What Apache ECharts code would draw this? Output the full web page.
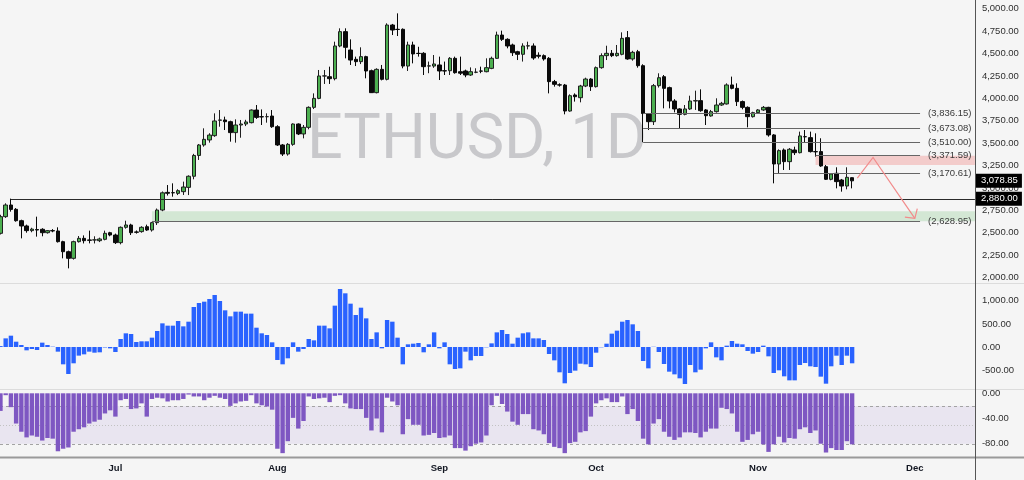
<!DOCTYPE html>
<html><head><meta charset="utf-8">
<script src="https://cdn.jsdelivr.net/npm/echarts@6/dist/echarts.min.js"></script>
<style>html,body{margin:0;padding:0;background:#f5f5f5}#c{width:1024px;height:480px}</style>
</head><body><div id="c"></div>
<script>
// ---- data ----
const startDate = [2025, 5, 9];           // 2025-06-09 (first candle)
const nCategories = 187;                   // axis runs on past the last candle to mid-December
const monthNames = ['Jan','Feb','Mar','Apr','May','Jun','Jul','Aug','Sep','Oct','Nov','Dec'];
const open = [
2493,2679,2809,2761,2634,2575,2523,2535,2538,2500,
2523,2519,2400,2288,2214,2400,2437,2419,2419,2411,
2426,2500,2474,2389,2560,2586,2508,2512,2567,2530,
2612,2753,2950,2947,2939,2958,3006,3130,3362,3479,
3535,3583,3755,3758,3739,3617,3702,3713,3728,3869,
3795,3795,3802,3683,3479,3378,3486,3713,3602,3676,
3899,3999,4249,4241,4219,4584,4744,4539,4435,4409,
4465,4308,4063,4323,4212,4818,4770,4770,4360,4595,
4502,4502,4360,4360,4372,4308,4308,4446,4297,4305,
4260,4290,4305,4297,4334,4446,4706,4658,4595,4520,
4491,4584,4584,4480,4476,4446,4186,4150,4148,3858,
4037,4007,4137,4215,4130,4342,4476,4502,4476,4491,
4677,4439,4520,4364,3830,3739,4141,4241,4119,3970,
3881,3821,3881,3970,3974,3870,3803,3851,3925,3937,
4149,4111,3963,3899,3795,3840,3870,3899,3591,3267,
3423,3293,3423,3393,3572,3561,3405,3405,3237,3096,
3163,3088,3021,3114];
const close = [
2679,2809,2760,2634,2575,2523,2540,2530,2500,2523,
2520,2400,2288,2214,2400,2437,2411,2415,2420,2430,
2493,2474,2389,2560,2586,2500,2505,2560,2530,2612,
2753,2945,2940,2945,2969,3010,3130,3362,3479,3542,
3590,3747,3758,3739,3617,3702,3713,3736,3869,3787,
3792,3795,3683,3479,3378,3486,3713,3602,3676,3899,
3999,4249,4250,4219,4584,4744,4569,4427,4409,4465,
4305,4063,4323,4212,4818,4762,4768,4360,4595,4495,
4500,4353,4362,4383,4305,4305,4446,4286,4280,4260,
4297,4292,4303,4342,4446,4706,4658,4584,4509,4491,
4584,4586,4450,4470,4439,4186,4156,4148,3858,4029,
4018,4137,4215,4130,4342,4476,4502,4476,4502,4669,
4439,4513,4364,3830,3739,4141,4230,4111,3970,3881,
3821,3881,3970,3974,3862,3806,3851,3925,3944,4149,
4111,3963,3899,3795,3840,3870,3899,3591,3267,3416,
3293,3431,3393,3580,3570,3405,3403,3245,3096,3155,
3070,3021,3118,3078.85];
const low = [
2480,2665,2735,2623,2437,2500,2505,2456,2460,2490,
2505,2390,2214,2102,2200,2390,2380,2381,2380,2395,
2415,2460,2374,2370,2545,2474,2490,2500,2520,2512,
2586,2740,2915,2902,2920,2921,2920,3096,3312,3460,
3505,3570,3683,3646,3516,3505,3560,3690,3720,3770,
3702,3728,3670,3468,3356,3360,3470,3590,3553,3654,
3880,3990,4160,4160,4200,4570,4446,4372,4360,4382,
4223,4060,4055,4200,4200,4706,4695,4335,4305,4390,
4465,4260,4280,4340,4204,4260,4260,4275,4260,4235,
4250,4280,4280,4290,4325,4440,4640,4558,4472,4427,
4410,4546,4430,4445,4420,4055,4130,4130,3821,3850,
3963,3955,4125,4082,4120,4330,4427,4460,4465,4480,
4430,4420,4342,3510,3646,3702,4120,3888,3888,3843,
3665,3810,3870,3870,3850,3702,3795,3840,3915,3930,
4100,3914,3877,3676,3785,3830,3860,3572,3051,3163,
3200,3200,3367,3385,3505,3395,3349,3235,3088,3085,
2995,2958,2984,2995];
const high = [
2700,2828,2880,2775,2645,2590,2555,2679,2550,2530,
2540,2560,2410,2300,2411,2463,2470,2523,2460,2445,
2523,2510,2490,2570,2634,2600,2525,2572,2590,2620,
2770,2960,3032,3051,2985,3070,3140,3380,3490,3665,
3610,3832,3869,3795,3750,3765,3758,3760,3876,3925,
3876,3832,3869,3700,3490,3500,3720,3720,3702,3910,
4055,4316,4316,4353,4632,4781,4781,4658,4465,4569,
4475,4320,4335,4372,4837,4830,4948,4780,4632,4632,
4575,4515,4410,4483,4465,4410,4460,4465,4465,4320,
4345,4335,4353,4446,4465,4744,4755,4670,4610,4530,
4614,4632,4613,4513,4490,4460,4205,4167,4160,4044,
4055,4150,4230,4225,4355,4502,4587,4539,4595,4736,
4751,4530,4540,4380,3835,4160,4279,4260,4130,3990,
3890,3925,4029,4085,4100,3880,3870,4000,3960,4167,
4242,4167,3975,3910,3850,3880,3914,3905,3600,3430,
3440,3445,3460,3628,3646,3628,3609,3554,3256,3165,
3230,3100,3230,3118];
const histogram = [
20,187,245,115,43,-72,-43,-65,94,43,
7,-101,-375,-584,-353,-187,-159,-101,-123,-115,
-10,-29,-108,173,296,281,108,123,123,202,
346,512,462,462,563,447,548,866,952,981,
1039,1126,996,794,664,765,765,722,722,418,
296,260,101,-281,-375,-245,101,-101,-43,173,
144,462,462,404,895,1255,1162,938,693,851,
620,173,317,-29,584,548,202,-375,58,72,
87,-115,58,317,-29,101,-375,-476,-462,-101,
-289,-195,-195,-7,79,317,368,281,72,202,
296,317,187,187,152,-152,-289,-548,-786,-563,
-512,-361,-375,-433,-123,-7,72,289,354,548,
584,491,346,-303,-462,5,-108,-368,-534,-592,
-678,-801,-390,-548,-491,-29,101,-224,-289,29,
130,72,58,-87,-144,-108,29,-202,-563,-505,
-635,-722,-722,-390,-346,-418,-433,-642,-794,-418,
-188,-390,-188,-353];
const williamsR = [
-28,-3,-22,-48,-61,-70,-67,-69,-75,-71,
-72,-92,-88,-86,-61,-57,-54,-48,-45,-42,
-32,-27,-37,-11,-9,-25,-24,-16,-37,-9,
-7,-8,-13,-11,-11,-9,-2,-5,-5,-11,
-7,-4,-7,-9,-20,-16,-13,-12,-3,-16,
-19,-21,-26,-88,-95,-76,-39,-56,-44,-5,
-9,-8,-7,-14,-4,-3,-16,-24,-25,-25,
-39,-59,-40,-62,-7,-13,-19,-65,-41,-50,
-50,-67,-66,-63,-71,-70,-67,-87,-87,-91,
-84,-80,-78,-67,-19,-4,-17,-29,-45,-50,
-33,-33,-57,-59,-65,-79,-85,-87,-95,-79,
-77,-62,-60,-37,-16,-11,-8,-14,-14,-5,
-33,-25,-44,-72,-81,-48,-41,-61,-69,-74,
-70,-62,-62,-63,-70,-61,-56,-56,-23,-25,
-32,-61,-77,-74,-65,-61,-81,-93,-81,-69,
-78,-71,-72,-57,-54,-63,-59,-80,-94,-87,
-90,-90,-76,-81];
// horizontal price levels: value, first candle index, last index (-1 = price axis)
const levelValues = [2880, 2628.95, 3836.15, 3673.08, 3510.00, 3371.59, 3170.61];
const levelStart  = [2, 29, 123, 123, 123, 156, 148];
const levelEnd    = [-1, 176, 176, 176, 176, 176, 176];
const levelLabels = ['', '(2,628.95)', '(3,836.15)', '(3,673.08)', '(3,510.00)', '(3,371.59)', '(3,170.61)'];
// shaded zones: start index, top price, bottom price
const zoneStart  = [29, 156];
const zoneTop    = [2740, 3360];
const zoneBottom = [2628.95, 3255];
// projection arrow
const arrowIdx   = [164, 167, 175];
const arrowPrice = [3110, 3340, 2660];
// price tags on the axis
const tagValues = [3078.85, 2880];
const title = 'ETHUSD, 1D';

// ---- build ----
const FONT = "'Liberation Sans',Arial,sans-serif";
const dates = [];
const d0 = Date.UTC(startDate[0], startDate[1], startDate[2]);
for (let i = 0; i < nCategories; i++) dates.push(new Date(d0 + i * 86400000).toISOString().slice(0, 10));
function fmt(v) {
  const neg = v < 0; const s = Math.abs(v).toFixed(2).split('.');
  return (neg ? '-' : '') + s[0].replace(/\B(?=(\d{3})+(?!\d))/g, ',') + '.' + s[1];
}
const candles = open.map((o, i) => [o, close[i], low[i], high[i]]);
const W = 5.225, L0 = -2.16;
const gridRight = 1024 - (L0 + nCategories * W);
const gridBase = {left: L0, right: gridRight, outerBoundsMode: 'none', containLabel: false};
const yLabel = {margin: 7, color: '#2f2f2f', fontSize: 9.5, fontFamily: FONT};
const hiddenX = idx => ({type: 'category', gridIndex: idx, data: dates, show: false, boundaryGap: true});

const chart = echarts.init(document.getElementById('c'), null, {renderer: 'canvas'});
chart.setOption({
  backgroundColor: '#f5f5f5',
  animation: false,
  grid: [
    Object.assign({top: 8.7, height: 268.8}, gridBase),
    Object.assign({top: 277.7, height: 115.5}, gridBase),
    Object.assign({top: 393.3, height: 63}, gridBase)
  ],
  xAxis: [hiddenX(0), hiddenX(1), {
    type: 'category', gridIndex: 2, data: dates, boundaryGap: true,
    axisLine: {show: false}, axisTick: {show: false}, splitLine: {show: false},
    axisLabel: {
      margin: 7, color: '#131722', fontSize: 9.5, fontWeight: 'bold', fontFamily: FONT,
      interval: (i, v) => v.slice(8) === '01',
      formatter: v => monthNames[+v.slice(5, 7) - 1]
    }
  }],
  yAxis: [
    {type: 'value', gridIndex: 0, position: 'right', min: 2000, max: 5000, interval: 250,
     axisLine: {show: false}, axisTick: {show: false}, splitLine: {show: false},
     axisLabel: Object.assign({formatter: fmt}, yLabel)},
    {type: 'value', gridIndex: 1, position: 'right', min: -1000, max: 1500, interval: 500,
     axisLine: {show: false}, axisTick: {show: false}, splitLine: {show: false},
     axisLabel: Object.assign({formatter: fmt, showMinLabel: false, showMaxLabel: false}, yLabel)},
    {type: 'value', gridIndex: 2, position: 'right', min: -100, max: 0, interval: 20,
     axisLine: {show: false}, axisTick: {show: false}, splitLine: {show: false},
     axisLabel: Object.assign({formatter: v => (v === 0 || v === -40 || v === -80) ? fmt(v) : ''}, yLabel)}
  ],
  graphic: [
    {type: 'text', x: 477, y: 142, z: 0, silent: true,
     style: {text: title, fill: '#c8c8cb', fontSize: 63, fontFamily: 'Roboto', align: 'center', verticalAlign: 'middle'}},
    {type: 'line', z: 10, silent: true, shape: {x1: 0, y1: 283.5, x2: 1024, y2: 283.5}, style: {stroke: '#dcdcdc', lineWidth: 1}},
    {type: 'line', z: 10, silent: true, shape: {x1: 0, y1: 389.5, x2: 1024, y2: 389.5}, style: {stroke: '#dcdcdc', lineWidth: 1}},
    {type: 'line', z: 10, silent: true, shape: {x1: 0, y1: 457.5, x2: 1024, y2: 457.5}, style: {stroke: '#9a9a9a', lineWidth: 2}},
    {type: 'line', z: 10, silent: true, shape: {x1: 975.5, y1: 0, x2: 975.5, y2: 480}, style: {stroke: '#555', lineWidth: 1}}
  ],
  series: [
    { // shaded zones
      type: 'custom', xAxisIndex: 0, yAxisIndex: 0, z: 1, silent: true,
      data: zoneStart.map((s, i) => [s, zoneTop[i], zoneBottom[i], i]),
      renderItem(params, api) {
        const cs = params.coordSys;
        const a = api.coord([api.value(0), api.value(1)]);
        const b = api.coord([api.value(0), api.value(2)]);
        const colors = ['rgba(76,175,80,0.2)', 'rgba(239,83,80,0.25)'];
        return {type: 'rect', shape: {x: a[0], y: a[1], width: cs.x + cs.width - a[0], height: b[1] - a[1]},
                style: {fill: colors[api.value(3)]}};
      }
    },
    {
      type: 'candlestick', xAxisIndex: 0, yAxisIndex: 0, z: 2, barWidth: 4,
      data: candles,
      itemStyle: {color: '#4caf50', color0: '#0a0a0a', borderColor: '#1f1f1f', borderColor0: '#0a0a0a', borderWidth: 1}
    },
    { // price levels
      type: 'custom', xAxisIndex: 0, yAxisIndex: 0, z: 3, silent: true, clip: false,
      data: levelValues.map((p, i) => [levelStart[i], p, levelEnd[i], i]),
      renderItem(params, api) {
        const cs = params.coordSys;
        const idx = api.value(3);
        const a = api.coord([api.value(0), api.value(1)]);
        const e = api.value(2);
        const x2 = e < 0 ? cs.x + cs.width : api.coord([e, api.value(1)])[0];
        const y = Math.round(a[1]) + 0.5;
        const children = [{type: 'line', shape: {x1: a[0], y1: y, x2: x2, y2: y},
          style: {stroke: idx === 0 ? '#2a2a2a' : '#666', lineWidth: 1}}];
        if (levelLabels[idx]) children.push({type: 'text', x: x2 + 8, y: y,
          style: {text: levelLabels[idx], fill: '#3a3a3a', fontSize: 9.5, fontFamily: FONT, align: 'left', verticalAlign: 'middle'}});
        return {type: 'group', children};
      }
    },
    { // projection arrow
      type: 'custom', xAxisIndex: 0, yAxisIndex: 0, z: 4, silent: true, clip: false,
      data: [[arrowIdx[0], arrowPrice[0], arrowIdx[1], arrowPrice[1], arrowIdx[2], arrowPrice[2]]],
      renderItem(params, api) {
        const p1 = api.coord([api.value(0), api.value(1)]);
        const p2 = api.coord([api.value(2), api.value(3)]);
        const p3 = api.coord([api.value(4), api.value(5)]);
        const ang = Math.atan2(p3[1] - p2[1], p3[0] - p2[0]) + Math.PI;
        const len = 10, spread = 0.85;
        const w1 = [p3[0] + len * Math.cos(ang + spread), p3[1] + len * Math.sin(ang + spread)];
        const w2 = [p3[0] + len * Math.cos(ang - spread), p3[1] + len * Math.sin(ang - spread)];
        const st = {stroke: '#f28b8b', lineWidth: 1.2, fill: null};
        return {type: 'group', children: [
          {type: 'polyline', shape: {points: [p1, p2, p3]}, style: st},
          {type: 'polyline', shape: {points: [w1, p3, w2]}, style: st}
        ]};
      }
    },
    { // axis price tags
      type: 'custom', xAxisIndex: 0, yAxisIndex: 0, z: 6, silent: true, clip: false,
      data: tagValues.map((v, i) => [163, v, i]),
      renderItem(params, api) {
        const cs = params.coordSys;
        const y = api.coord([api.value(0), api.value(1)])[1];
        const x = cs.x + cs.width + 1;
        return {type: 'group', children: [
          {type: 'rect', shape: {x: x, y: y - 7, width: 46, height: 14}, style: {fill: '#000'}},
          {type: 'text', x: x + 5, y: y, style: {text: fmt(api.value(1)), fill: '#fff', fontSize: 9.5, fontFamily: FONT, align: 'left', verticalAlign: 'middle'}}
        ]};
      }
    },
    {
      type: 'bar', xAxisIndex: 1, yAxisIndex: 1, z: 2, barWidth: 4.4,
      data: histogram, itemStyle: {color: '#2962ff'}
    },
    { // Williams %R band
      type: 'custom', xAxisIndex: 2, yAxisIndex: 2, z: 1, silent: true,
      data: [[0, -20]],
      renderItem(params, api) {
        const cs = params.coordSys;
        const yA = api.coord([0, -20])[1], yB = api.coord([0, -80])[1], yM = api.coord([0, -50])[1];
        const x1 = Math.max(0, cs.x), x2 = cs.x + cs.width;
        return {type: 'group', children: [
          {type: 'rect', shape: {x: x1, y: yA, width: x2 - x1, height: yB - yA}, style: {fill: 'rgba(126,87,194,0.1)'}},
          {type: 'line', shape: {x1: x1, y1: Math.round(yA) + 0.5, x2: x2, y2: Math.round(yA) + 0.5}, style: {stroke: '#a3a3a3', lineWidth: 1, lineDash: [3, 3]}},
          {type: 'line', shape: {x1: x1, y1: Math.round(yB) + 0.5, x2: x2, y2: Math.round(yB) + 0.5}, style: {stroke: '#a3a3a3', lineWidth: 1, lineDash: [3, 3]}},
          {type: 'line', shape: {x1: x1, y1: Math.round(yM) + 0.5, x2: x2, y2: Math.round(yM) + 0.5}, style: {stroke: '#c2c2c2', lineWidth: 1, lineDash: [1, 2]}}
        ]};
      }
    },
    {
      type: 'bar', xAxisIndex: 2, yAxisIndex: 2, z: 2, barWidth: 4.4,
      data: williamsR, itemStyle: {color: '#7e57c2'}
    }
  ]
});
</script>
</body></html>
